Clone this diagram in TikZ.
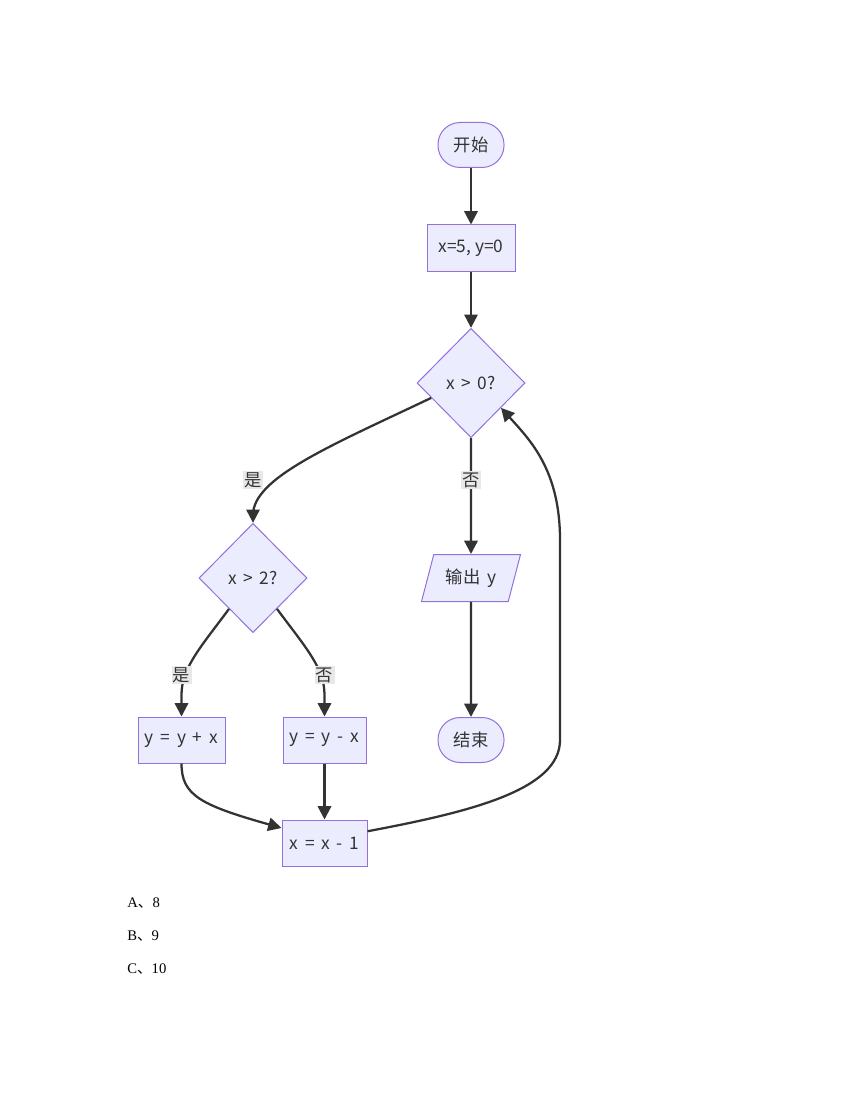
\documentclass[tikz,border=0pt]{standalone}
\usepackage{fontspec}
\setmainfont{Liberation Serif}
\newfontfamily\cjk{Noto Sans CJK SC}
\usepackage{tikz}
\usetikzlibrary{shapes.geometric, arrows.meta, calc}
\definecolor{nodefill}{HTML}{ECECFF}
\definecolor{nodeline}{HTML}{9370DB}
\definecolor{linegray}{HTML}{333333}
\definecolor{labelbg}{HTML}{E8E8E8}
\tikzstyle{arrow} = [line width=1.7pt,draw=linegray,-{Triangle[length=10pt,width=10pt]}]
\tikzstyle{chart} = [draw=nodeline,fill=nodefill,line width=0.75pt,text=linegray,font=\cjk\fontsize{13}{15}\selectfont]
\tikzstyle{box} = [chart,rectangle,minimum height=34.5pt]
\tikzstyle{terminal} = [chart,rectangle,rounded corners=16.5pt,minimum width=49.5pt,minimum height=33.75pt]
\tikzstyle{decision} = [chart,diamond,inner sep=0pt,minimum width=81pt,minimum height=82pt]
\tikzstyle{io} = [chart,trapezium,trapezium left angle=66,trapezium right angle=114,trapezium stretches body,minimum width=74.25pt,minimum height=35.25pt]
\tikzstyle{lbl} = [fill=labelbg,inner sep=1pt,text=linegray,font=\cjk\fontsize{13}{15}\selectfont]
\tikzstyle{choice} = [anchor=west,inner sep=0pt,font=\fontsize{11}{13}\selectfont]

\begin{document}
\begin{tikzpicture}[x=0.75pt,y=-0.75pt]
        \useasboundingbox (0,0) rectangle (857,1109);
        \node[terminal] (start) at (471,145) {开始};
        \node[box, minimum width=66pt] (init) at (471,248) {x=5, y=0};
        \node[decision] (cond1) at (471,383) {x \,>\, 0?};
        \node[decision] (cond2) at (253,578) {x \,>\, 2?};
        \node[io] (output) at (471,578) {输出\, y};
        \node[terminal] (stop) at (471,740) {结束};
        \node[box, minimum width=65.25pt] (add) at (181.5,740) {y \,=\, y \,+\, x};
        \node[box, minimum width=62.25pt] (sub) at (324.5,740) {y \,=\, y \,-\, x};
        \node[box, minimum width=63.75pt] (dec) at (324.5,843) {x \,=\, x \,-\, 1};
        \draw[arrow] (start) -- (init);
        \draw[arrow] (init) -- (cond1);
        \draw[arrow] ($(cond1.west)!0.27!(cond1.south)$) .. controls (330,446) and (253,478) .. (253,515) -- (cond2.north);
        \draw[arrow] (cond1.south) -- (output.north);
        \draw[arrow] ($(cond2.west)!0.56!(cond2.south)$) .. controls (200,648) and (181.5,668) .. (181.5,695) -- (add.north);
        \draw[arrow] ($(cond2.east)!0.56!(cond2.south)$) .. controls (306,648) and (324.5,668) .. (324.5,695) -- (sub.north);
        \draw[arrow] (output.south) -- (stop.north);
        \draw[arrow] (add.south) .. controls (181.5,795) and (200,805) .. ($(dec.north west)!0.18!(dec.south west)$);
        \draw[arrow] (sub.south) -- (dec.north);
        \draw[arrow] ($(dec.north east)!0.25!(dec.south east)$) .. controls (470,812) and (560,790) .. (560,740) -- (560,540) .. controls (560,470) and (530,440) .. ($(cond1.east)!0.45!(cond1.south)$);
        \node[lbl] (yes1) at (253,480) {是};
        \node[lbl] (no1) at (471,480) {否};
        \node[lbl] (yes2) at (181.5,675) {是};
        \node[lbl] (no2) at (324.5,675) {否};
        \node[choice] (optA) at (127,903) {A{\cjk 、}8};
        \node[choice] (optB) at (127,936) {B{\cjk 、}9};
        \node[choice] (optC) at (127,969) {C{\cjk 、}10};
      \end{tikzpicture}
\end{document}
